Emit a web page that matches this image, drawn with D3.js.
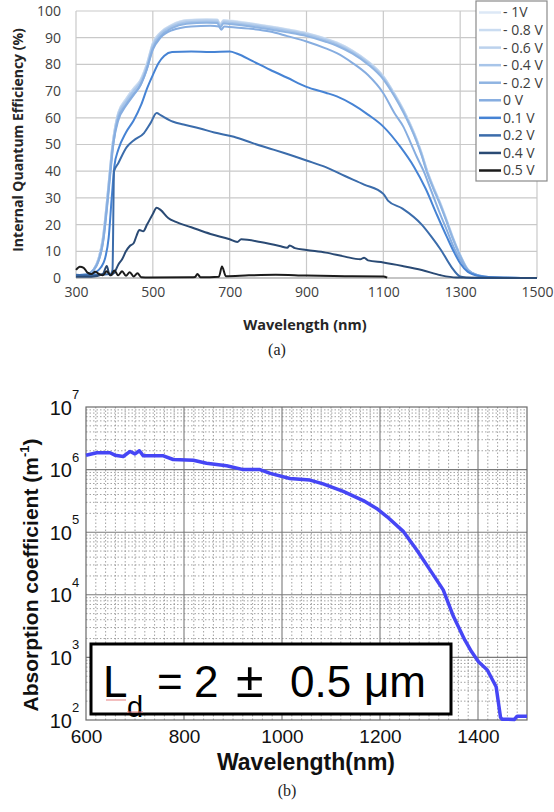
<!DOCTYPE html>
<html>
<head>
<meta charset="utf-8">
<script src="https://cdn.jsdelivr.net/npm/d3@7"></script>
<style>
  html, body { margin: 0; padding: 0; background: #fff; }
  svg { display: block; }
</style>
</head>
<body>
<div id="chart"></div>
<script>
// ---- panel (a): internal quantum efficiency vs wavelength, one array per bias ----
const qeLabels = ["- 1V", "- 0.8 V", "- 0.6 V", "- 0.4 V", "- 0.2 V", "0 V", "0.1 V", "0.2 V", "0.4 V", "0.5 V"];
const qeColors = ["#dde8f6", "#cadcf1", "#bcd2ed", "#a8c5e9", "#8fb4e2", "#86ade0", "#4683d4", "#3b6cab", "#2a4a74", "#1b1b1b"];

const qe_m1V = [[300,1],[330,1.5],[345,3],[358,7],[370,15],[380,28],[388,40],[395,50],[400,55],[410,62],[430,67],[450,71],[467,74],[484,80],[500,88],[520,92],[550,94.9],[588,96.6],[640,96.9],[668,96.8],[675,95],[684,96.6],[700,96.4],[750,95.5],[805,94.3],[850,93.2],[900,91.8],[950,89.7],[979,88.2],[1020,85.2],[1060,81.2],[1100,75.6],[1130,68.8],[1152,63.2],[1170,57.8],[1187,52],[1200,46.8],[1213,40.8],[1230,34.4],[1248,28.3],[1265,21.8],[1280,15.8],[1300,8.8],[1321,3.1],[1345,1.1],[1380,0.3],[1500,0]];
const qe_m08V = [[300,1],[330,1.4],[345,3],[358,7],[370,15],[380,28],[388,40],[395,50],[400,55],[410,62],[430,67],[450,71],[467,74],[484,80],[500,88],[520,92],[550,94.8],[588,96.5],[640,96.8],[668,96.7],[675,95],[684,96.5],[700,96.3],[750,95.4],[805,94.2],[850,93.1],[900,91.7],[950,89.6],[979,88.1],[1020,85.1],[1060,81.1],[1100,75.5],[1130,68.7],[1152,63],[1170,57.6],[1187,51.8],[1200,46.6],[1213,40.6],[1230,34.2],[1248,28.1],[1265,21.6],[1280,15.6],[1300,8.6],[1321,3],[1345,1],[1380,0.2],[1500,0]];
const qe_m06V = [[300,1],[330,1.4],[345,3],[358,7],[370,15],[380,28],[388,40],[395,50],[400,55],[410,61.5],[430,66.5],[450,70.5],[467,73.5],[484,79.5],[500,87.5],[520,91.7],[550,94.6],[588,96.3],[640,96.6],[668,96.5],[675,94.8],[684,96.3],[700,96.1],[750,95.2],[805,94],[850,92.9],[900,91.5],[950,89.4],[979,87.9],[1020,84.9],[1060,80.9],[1100,75.3],[1130,68.5],[1152,62.8],[1170,57.4],[1187,51.6],[1200,46.4],[1213,40.4],[1230,34],[1248,27.9],[1265,21.4],[1280,15.4],[1300,8.5],[1321,2.9],[1345,1],[1380,0.2],[1500,0]];
const qe_m04V = [[300,1],[330,1.3],[345,2.8],[358,6.5],[370,14],[380,27],[388,39],[395,49],[400,54],[410,61],[430,66],[450,70],[467,73],[484,79],[500,87],[520,91.3],[550,94.2],[588,95.8],[640,96.1],[668,96],[675,94.3],[684,95.8],[700,95.6],[750,94.8],[805,93.6],[850,92.5],[900,91.1],[950,89],[979,87.5],[1020,84.5],[1060,80.5],[1100,74.9],[1130,68.2],[1152,62.5],[1170,57.1],[1187,51.3],[1200,46.1],[1213,40.1],[1230,33.8],[1248,27.7],[1265,21.2],[1280,15.2],[1300,8.4],[1321,2.8],[1345,1],[1380,0.2],[1500,0]];
const qe_m02V = [[300,1],[330,1.3],[345,2.7],[358,6],[370,13],[380,26],[388,38],[395,48],[400,53],[410,60],[430,65],[450,69],[467,72],[484,78],[500,86],[520,90.5],[550,93.6],[588,95.2],[640,95.6],[668,95.5],[675,93.8],[684,95.3],[700,95.1],[750,94.3],[805,93.1],[850,92],[900,90.6],[950,88.5],[979,87],[1020,84],[1060,80],[1100,74.4],[1130,67.8],[1152,62.1],[1170,56.8],[1187,51],[1200,45.8],[1213,39.8],[1230,33.5],[1248,27.4],[1265,21],[1280,15],[1300,8.3],[1321,2.8],[1345,1],[1380,0.2],[1500,0]];
const qe_0V = [[300,1],[330,1.5],[345,3],[360,7],[372,15],[382,28],[390,40],[398,51],[410,59],[430,64.5],[450,68.5],[467,72],[484,78],[500,85.5],[520,90],[550,92.8],[600,94.2],[650,94.5],[672,94.2],[678,93],[686,94.2],[700,94],[750,93.4],[805,92.3],[850,90.6],[900,88.6],[950,86],[979,84.2],[1020,80.5],[1060,76],[1100,69.2],[1130,61.5],[1152,56.7],[1170,51],[1187,45.4],[1205,40],[1225,32.5],[1245,25],[1265,18],[1285,11],[1300,6.8],[1320,3],[1345,1.1],[1380,0.3],[1500,0]];
const qe_01V = [[300,1],[330,1],[350,2],[365,4],[375,7],[385,15],[393,30],[400,42],[410,48],[430,54.5],[450,59],[470,65],[485,71],[500,76],[515,80.5],[530,83.2],[550,84.6],[600,84.8],[650,84.6],[700,84.8],[720,84],[760,81.2],[805,78],[850,75],[900,71.6],[950,69.4],[979,68],[1020,65],[1060,61.2],[1100,56.7],[1145,49],[1180,41.6],[1210,33.5],[1240,23.5],[1265,15.5],[1285,9.4],[1300,5.5],[1320,2.3],[1350,0.8],[1400,0.2],[1500,0]];
const qe_02V = [[300,1.2],[330,1],[360,1.2],[390,1.5],[395,3],[399,40],[410,43],[432,49],[450,51.5],[477,54.3],[494,58],[510,61.8],[520,61],[553,58.5],[580,57.5],[623,56],[660,54.5],[711,52.9],[760,50.5],[816,48],[842,46.8],[900,44],[950,41.5],[1000,38.2],[1050,35],[1100,31.5],[1112,29],[1150,26],[1200,20],[1225,15.5],[1250,10.5],[1277,4.2],[1300,0.6],[1330,0],[1500,0]];
const qe_04V = [[300,0.5],[340,0.5],[370,1.5],[380,4.5],[388,1],[400,2],[410,5],[420,7],[430,10],[440,12],[450,13],[458,16],[465,18],[475,17.5],[485,20],[500,24],[510,26.3],[520,25.5],[540,22.5],[560,21],[600,19],[650,16.5],[700,14.5],[720,13.5],[730,14.5],[780,13.5],[830,12],[850,11.3],[856,12.2],[870,11.2],[900,10.5],[950,9.5],[1000,8],[1040,7],[1050,7.6],[1060,6.6],[1100,5.8],[1150,4.5],[1200,3],[1250,1],[1290,0.2],[1500,0]];
const qe_05V = [[300,3],[310,4.2],[320,3.8],[330,2],[340,1.5],[350,2.3],[360,1.5],[370,1],[380,2.5],[390,1],[400,2.8],[410,1],[420,2.5],[430,0.8],[440,2.2],[450,0.6],[460,1.8],[470,0.3],[490,0.2],[600,0.3],[610,0.4],[616,1.5],[624,0.3],[672,0.5],[680,4.3],[690,0.7],[750,1],[820,1.2],[900,0.9],[1000,0.7],[1100,0.6],[1110,0.1]];
const qeSeries = [qe_m1V, qe_m08V, qe_m06V, qe_m04V, qe_m02V, qe_0V, qe_01V, qe_02V, qe_04V, qe_05V];
const qeXTicks = [300, 500, 700, 900, 1100, 1300, 1500];
const qeYTicks = [0, 10, 20, 30, 40, 50, 60, 70, 80, 90, 100];

// ---- panel (b): absorption coefficient (m^-1) vs wavelength ----
const absWavelength = [600,622,649,659,676,690,700,709,717,758,778,819,846,887,921,955,976,1016,1057,1084,1125,1166,1193,1214,1248,1275,1302,1329,1350,1373,1387,1401,1419,1437,1446,1449,1474,1480,1500];
const absCoeff = [1.7e6,1.86e6,1.86e6,1.7e6,1.62e6,1.95e6,1.78e6,2.0e6,1.66e6,1.66e6,1.45e6,1.41e6,1.26e6,1.15e6,1.0e6,1.0e6,8.7e5,7.2e5,6.8e5,5.9e5,4.5e5,3.2e5,2.4e5,1.78e5,1.02e5,5.2e4,2.5e4,1.2e4,4.5e3,1.9e3,1.23e3,8.5e2,6.3e2,3.4e2,1.1e2,1.03e2,1.02e2,1.15e2,1.15e2];
const absXTicks = [600, 800, 1000, 1200, 1400];
const absYDecades = [2, 3, 4, 5, 6, 7];

const W = 554, H = 812;
const svg = d3.select("#chart").append("svg")
  .attr("width", W).attr("height", H)
  .attr("viewBox", [0, 0, W, H]);

// ================= panel (a) =================
const topFont = "'Open Sans', 'Noto Sans', sans-serif";
const x1 = d3.scaleLinear().domain([300, 1500]).range([76, 537]);
const y1 = d3.scaleLinear().domain([0, 100]).range([278, 11]);

const gA = svg.append("g");

// grid
gA.append("g").selectAll("line").data(qeYTicks).join("line")
  .attr("x1", x1(300)).attr("x2", x1(1500))
  .attr("y1", d => y1(d)).attr("y2", d => y1(d))
  .attr("stroke", d => d === 0 ? "#8c8c8c" : "#c9c9c9").attr("stroke-width", 1.2);
gA.append("g").selectAll("line").data(qeXTicks).join("line")
  .attr("x1", d => x1(d)).attr("x2", d => x1(d))
  .attr("y1", y1(0)).attr("y2", y1(100))
  .attr("stroke", "#c9c9c9").attr("stroke-width", 1.2);

// axes labels
const xAxisA = d3.axisBottom(x1).tickValues(qeXTicks).tickFormat(d3.format("d")).tickSize(0).tickPadding(9);
gA.append("g").attr("transform", `translate(0,${y1(0)})`).call(xAxisA)
  .call(g => g.select(".domain").remove())
  .selectAll("text").attr("font-family", topFont).attr("font-size", 14).attr("fill", "#404040");
const yAxisA = d3.axisLeft(y1).tickValues(qeYTicks).tickFormat(d3.format("d")).tickSize(0).tickPadding(15);
gA.append("g").attr("transform", `translate(${x1(300)},0)`).call(yAxisA)
  .call(g => g.select(".domain").remove())
  .selectAll("text").attr("font-family", topFont).attr("font-size", 14).attr("fill", "#404040");

// series
const lineA = d3.line().x(d => x1(d[0])).y(d => y1(d[1])).curve(d3.curveMonotoneX);
gA.append("g").selectAll("path").data(qeSeries).join("path")
  .attr("d", lineA).attr("fill", "none")
  .attr("stroke", (d, i) => qeColors[i]).attr("stroke-width", 2)
  .attr("stroke-linejoin", "round");

// axis titles
gA.append("text").attr("x", 305).attr("y", 330).attr("text-anchor", "middle")
  .attr("font-family", topFont).attr("font-weight", "bold").attr("font-size", 14.5).attr("fill", "#262626")
  .text("Wavelength (nm)");
gA.append("text").attr("transform", "translate(23,140) rotate(-90)").attr("text-anchor", "middle")
  .attr("font-family", topFont).attr("font-weight", "bold").attr("font-size", 14).attr("fill", "#262626")
  .text("Internal Quantum Efficiency (%)");

// legend
const leg = gA.append("g");
leg.append("rect").attr("x", 476).attr("y", 1).attr("width", 71).attr("height", 180)
  .attr("fill", "#fff").attr("stroke", "#8a8a8a").attr("stroke-width", 1.2);
const legY = d3.scalePoint().domain(qeLabels).range([12.5, 170.5]);
const li = leg.selectAll("g.item").data(qeLabels).join("g").attr("class", "item")
  .attr("transform", d => `translate(0,${legY(d)})`);
li.append("line").attr("x1", 479).attr("x2", 501).attr("y1", 0).attr("y2", 0)
  .attr("stroke", (d, i) => qeColors[i]).attr("stroke-width", 2.5);
li.append("text").attr("x", 503).attr("y", 0).attr("dy", "0.35em")
  .attr("font-family", topFont).attr("font-size", 14).attr("fill", "#404040")
  .text(d => d);

svg.append("text").attr("x", 277).attr("y", 355).attr("text-anchor", "middle")
  .attr("font-family", "'Liberation Serif', 'DejaVu Serif', serif").attr("font-size", 16).attr("fill", "#222")
  .text("(a)");

// ================= panel (b) =================
const botFont = "'Liberation Sans', Arial, sans-serif";
const x2 = d3.scaleLinear().domain([600, 1500]).range([86, 527]);
const y2 = d3.scaleLog().domain([1e2, 1e7]).range([720, 407]);
const gB = svg.append("g");

// minor grid (dotted)
const minorX = d3.range(600, 1500, 20).filter(v => v % 200 !== 0);
const minorY = [];
absYDecades.slice(0, -1).forEach(p => { for (let k = 2; k <= 9; k++) minorY.push(k * Math.pow(10, p)); });
gB.append("g").selectAll("line").data(minorX).join("line")
  .attr("x1", d => x2(d)).attr("x2", d => x2(d)).attr("y1", y2(1e7)).attr("y2", y2(1e2))
  .attr("stroke", "#8a8a8a").attr("stroke-width", 0.8).attr("stroke-dasharray", "1.5,2");
gB.append("g").selectAll("line").data(minorY).join("line")
  .attr("x1", x2(600)).attr("x2", x2(1500)).attr("y1", d => y2(d)).attr("y2", d => y2(d))
  .attr("stroke", "#8a8a8a").attr("stroke-width", 0.8).attr("stroke-dasharray", "1.5,2");
// major grid
gB.append("g").selectAll("line").data(absXTicks.slice(1)).join("line")
  .attr("x1", d => x2(d)).attr("x2", d => x2(d)).attr("y1", y2(1e7)).attr("y2", y2(1e2))
  .attr("stroke", "#7a7a7a").attr("stroke-width", 1.1);
gB.append("g").selectAll("line").data(absYDecades.slice(1, -1)).join("line")
  .attr("x1", x2(600)).attr("x2", x2(1500)).attr("y1", d => y2(Math.pow(10, d))).attr("y2", d => y2(Math.pow(10, d)))
  .attr("stroke", "#7a7a7a").attr("stroke-width", 1.1);
gB.append("rect").attr("x", x2(600)).attr("y", y2(1e7))
  .attr("width", x2(1500) - x2(600)).attr("height", y2(1e2) - y2(1e7))
  .attr("fill", "none").attr("stroke", "#6a6a6a").attr("stroke-width", 1.2);

// tick labels
const xAxisB = d3.axisBottom(x2).tickValues(absXTicks).tickFormat(d3.format("d")).tickSize(0).tickPadding(10);
gB.append("g").attr("transform", `translate(0,${y2(1e2)})`).call(xAxisB)
  .call(g => g.select(".domain").remove())
  .selectAll("text").attr("font-family", botFont).attr("font-size", 19).attr("fill", "#111");
gB.append("g").selectAll("text").data(absYDecades).join("text")
  .attr("x", 72).attr("y", d => y2(Math.pow(10, d))).attr("dy", "0.38em")
  .attr("text-anchor", "end").attr("font-family", botFont).attr("font-size", 20).attr("fill", "#111")
  .text("10");
gB.append("g").selectAll("text").data(absYDecades).join("text")
  .attr("x", 72).attr("y", d => y2(Math.pow(10, d)) - 8)
  .attr("font-family", botFont).attr("font-size", 13).attr("fill", "#111")
  .text(d => d);

// curve
const lineB = d3.line().x(d => x2(d[0])).y(d => y2(d[1]));
gB.append("path").datum(d3.zip(absWavelength, absCoeff))
  .attr("d", lineB).attr("fill", "none").attr("stroke", "#4646f5")
  .attr("stroke-width", 3.5).attr("stroke-linejoin", "round");

// annotation box
const box = gB.append("g");
box.append("rect").attr("x", 91).attr("y", 644).attr("width", 360).attr("height", 70)
  .attr("fill", "#fff").attr("stroke", "#000").attr("stroke-width", 3);
const ann = box.append("text").attr("font-family", botFont).attr("fill", "#000").attr("font-size", 44);
ann.append("tspan").attr("x", 103).attr("y", 697).text("L");
ann.append("tspan").attr("x", 127).attr("y", 717).attr("font-size", 29).text("d");
ann.append("tspan").attr("x", 157).attr("y", 697).text("=");
ann.append("tspan").attr("x", 194).attr("y", 697).text("2");
ann.append("tspan").attr("x", 236).attr("y", 697).attr("font-size", 50).text("±");
ann.append("tspan").attr("x", 290).attr("y", 697).text("0.5");
ann.append("tspan").attr("x", 364).attr("y", 697).text("μm");
// spell-check squiggle under "Ld" as in the screenshot
box.append("path").attr("d", "M106,700 L126,700 M127,712 L143,712")
  .attr("stroke", "#e88080").attr("stroke-width", 1.2).attr("fill", "none");

// axis titles
gB.append("text").attr("x", 306).attr("y", 770).attr("text-anchor", "middle")
  .attr("font-family", botFont).attr("font-weight", "bold").attr("font-size", 23).attr("fill", "#111")
  .text("Wavelength(nm)");
const yt = gB.append("text").attr("transform", "translate(38,575) rotate(-90)").attr("text-anchor", "middle")
  .attr("font-family", botFont).attr("font-weight", "bold").attr("font-size", 21).attr("fill", "#111");
yt.append("tspan").text("Absorption coefficient (m");
yt.append("tspan").attr("font-size", 13).attr("dy", -9).text("-1");
yt.append("tspan").attr("dy", 9).text(")");

svg.append("text").attr("x", 287).attr("y", 796).attr("text-anchor", "middle")
  .attr("font-family", "'Liberation Serif', 'DejaVu Serif', serif").attr("font-size", 16).attr("fill", "#222")
  .text("(b)");
</script>
</body>
</html>
